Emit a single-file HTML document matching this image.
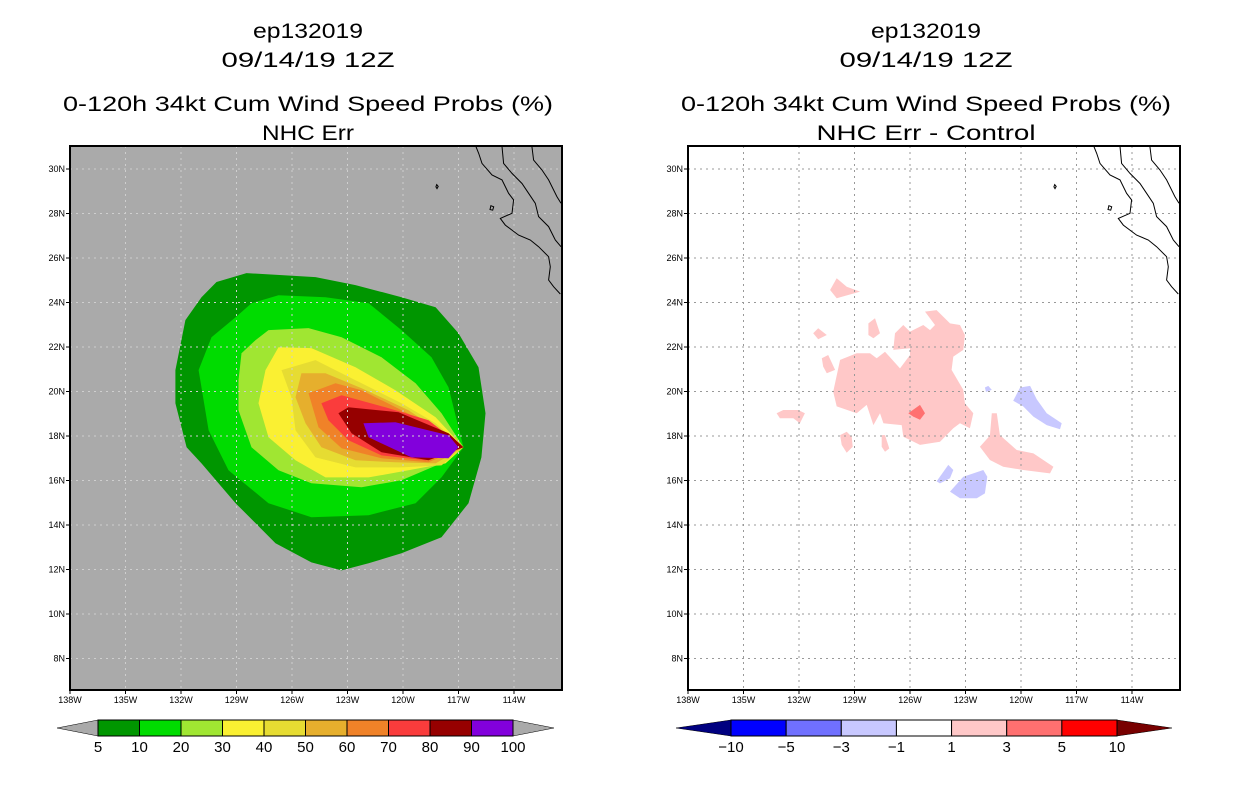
<!DOCTYPE html>
<html><head><meta charset="utf-8"><style>
body{margin:0;background:#fff;}
svg text{font-family:"Liberation Sans",sans-serif;}
</style></head><body>
<svg id="s" width="1236" height="800" viewBox="0 0 1236 800" xmlns="http://www.w3.org/2000/svg">
<rect width="1236" height="800" fill="#fff"/>
<g font-size="21" text-anchor="middle" fill="#000" lengthAdjust="spacingAndGlyphs">
<text x="308" y="38" textLength="110" lengthAdjust="spacingAndGlyphs">ep132019</text>
<text x="308" y="67" textLength="173" lengthAdjust="spacingAndGlyphs">09/14/19 12Z</text>
<text x="308" y="111" textLength="490" lengthAdjust="spacingAndGlyphs">0-120h 34kt Cum Wind Speed Probs (%)</text>
<text x="308" y="140" textLength="92" lengthAdjust="spacingAndGlyphs">NHC Err</text>
<text x="926" y="38" textLength="110" lengthAdjust="spacingAndGlyphs">ep132019</text>
<text x="926" y="67" textLength="173" lengthAdjust="spacingAndGlyphs">09/14/19 12Z</text>
<text x="926" y="111" textLength="490" lengthAdjust="spacingAndGlyphs">0-120h 34kt Cum Wind Speed Probs (%)</text>
<text x="926" y="140" textLength="219" lengthAdjust="spacingAndGlyphs">NHC Err - Control</text>
</g>
</svg>
<script>
const lonTicks=[138,135,132,129,126,123,120,117,114];
const latTicks=[30,28,26,24,22,20,18,16,14,12,10,8];
const leftLevels=["5","10","20","30","40","50","60","70","80","90","100"];
const leftColors=["#009600","#00dc00","#a0e632","#faf032","#e6dc32","#e6af2d","#f08228","#fa3c3c","#960000","#8200dc"];
const rightLevels=["-10","-5","-3","-1","1","3","5","10"];
const rightColors=["#0000ff","#7070ff","#c8c8ff","#ffffff","#ffc8c8","#ff7070","#ff0000"];
// contours: [lon,lat] pairs, 5% .. 90%
const c05=[[130.08,24.92],[128.46,25.32],[124.73,25.14],[122.57,24.78],[120.08,24.24],[118.24,23.79],[117.0,22.62],[115.92,21.09],[115.54,19.02],[115.76,17.04],[116.46,14.98],[117.92,13.45],[120.08,12.73],[121.86,12.28],[123.32,11.96],[124.95,12.32],[126.89,13.18],[129.05,14.98],[130.89,16.77],[131.70,17.49],[132.30,19.47],[132.30,20.96],[131.76,23.21],[130.89,24.24]];
const c10=[[126.73,24.33],[124.19,24.24],[121.86,23.97],[120.08,22.76],[118.46,21.54],[117.54,20.19],[117.0,18.39],[116.73,17.49],[117.92,16.14],[119.32,14.98],[121.86,14.44],[124.95,14.35],[127.27,14.98],[129.43,16.46],[130.51,18.26],[131.05,20.96],[130.35,22.44],[129.05,23.34],[128.19,23.97]];
const c20=[[127.27,22.76],[125.11,22.85],[123.32,22.44],[121.16,21.54],[119.32,20.37],[117.92,19.02],[116.73,17.49],[117.54,16.91],[120.08,16.01],[122.24,15.70],[124.95,15.88],[126.73,16.46],[128.19,17.49],[128.89,19.16],[128.89,20.51],[128.73,21.72],[127.97,22.31]];
const c30=[[126.73,21.99],[124.95,21.95],[122.57,21.09],[120.41,20.06],[118.24,18.84],[116.73,17.49],[117.70,16.77],[119.70,16.46],[121.86,16.14],[124.19,16.14],[125.81,16.91],[127.27,17.94],[127.81,19.47],[127.43,20.96]];
const c40=[[126.57,20.96],[124.73,21.41],[122.57,20.51],[120.08,19.47],[118.24,18.57],[116.73,17.49],[117.92,16.68],[120.08,16.59],[122.57,16.59],[124.73,17.04],[125.81,18.26],[126.03,19.74]];
const c50=[[125.49,20.82],[124.19,20.82],[122.24,20.15],[119.70,19.16],[116.73,17.49],[118.24,16.77],[120.41,16.82],[122.57,16.91],[124.41,17.49],[125.27,18.57],[125.81,19.74]];
const c60=[[125.11,19.92],[123.65,20.37],[122.24,20.06],[119.32,18.84],[116.73,17.49],[118.62,16.82],[121.16,17.00],[123.32,17.45],[124.57,18.39]];
const c70=[[124.41,19.47],[123.32,19.83],[120.95,19.29],[118.62,18.71],[116.73,17.49],[118.78,16.91],[121.16,17.13],[122.95,17.81],[124.03,18.71]];
const c80=[[123.49,19.02],[122.95,19.29],[120.24,19.07],[117.54,18.12],[116.73,17.49],[118.62,16.91],[121.16,17.27],[122.78,18.12]];
const c90=[[122.14,18.57],[120.41,18.62],[117.54,18.03],[117.0,17.49],[117.54,17.00],[119.54,17.04],[121.86,17.94]];
// difference blobs
const pMain=[[130.15,19.99],[129.78,21.42],[128.88,21.72],[128.16,21.72],[127.80,21.49],[127.35,21.79],[126.54,21.04],[126.0,21.64],[126.0,21.94],[126.90,21.87],[126.81,22.62],[126.36,22.99],[126.0,22.69],[125.28,22.99],[124.92,22.76],[124.65,22.99],[125.19,23.59],[124.56,23.66],[123.84,23.06],[123.30,22.99],[123.03,22.54],[123.12,21.87],[123.66,21.57],[123.75,20.97],[123.12,20.07],[123.03,19.47],[122.58,19.02],[122.76,18.35],[123.30,18.57],[123.66,18.35],[124.38,17.74],[125.46,17.60],[126.36,17.97],[126.45,18.49],[127.44,18.57],[127.62,19.02],[127.98,18.49],[128.34,19.40],[128.88,19.02],[129.96,19.33]];
const pA=[[130.32,24.56],[129.96,25.09],[129.42,24.71],[128.70,24.49],[129.96,24.19]];
const pB=[[131.23,22.62],[130.96,22.84],[130.50,22.54],[130.96,22.35]];
const pC=[[128.25,23.06],[127.89,23.29],[127.62,22.62],[127.98,22.39],[128.25,22.54]];
const pD=[[130.77,21.49],[130.42,21.64],[130.05,20.97],[130.50,20.82],[130.69,21.12]];
const pE=[[133.21,19.02],[132.85,19.17],[132.04,19.17],[131.68,19.02],[131.95,18.57],[132.31,18.80],[133.03,18.80]];
const pF=[[129.78,18.04],[129.42,18.19],[129.15,17.97],[129.10,17.52],[129.42,17.25],[129.69,17.60]];
const pG=[[127.53,18.04],[127.35,18.04],[127.12,17.44],[127.35,17.29],[127.53,17.52]];
const pH=[[122.22,17.52],[121.68,18.02],[121.58,19.02],[121.31,19.02],[121.14,18.04],[120.23,17.37],[119.33,17.22],[118.25,16.62],[118.43,16.32],[119.88,16.47],[120.96,16.62],[121.68,16.92]];
const rDiamond=[[126.09,19.02],[125.46,19.40],[125.19,19.02],[125.46,18.73],[125.82,18.87]];
const bI=[[120.42,19.58],[120.05,20.18],[119.51,20.25],[119.15,19.65],[118.61,19.02],[117.80,18.57],[117.89,18.30],[118.61,18.49],[119.33,18.87],[119.88,19.33]];
const bJ=[[123.84,15.50],[123.12,16.17],[122.04,16.47],[121.82,16.17],[121.95,15.42],[122.39,15.20],[123.30,15.20]];
const bK=[[124.56,15.96],[123.93,16.70],[123.66,16.47],[123.84,16.10],[124.38,15.87]];
const bL=[[121.95,20.18],[121.77,20.25],[121.58,20.07],[121.89,19.98]];
// coastlines
const coast1=[[116.09,31.08],[115.91,30.70],[115.73,30.25],[115.19,29.73],[114.65,29.51],[114.29,28.91],[114.02,28.61],[114.11,28.01],[114.74,27.78],[114.47,27.48],[113.75,27.03],[113.12,26.81],[112.67,26.51],[112.13,26.06],[112.04,25.61],[112.13,25.01],[111.86,24.71],[111.50,24.38]];
const coast2=[[114.65,31.01],[114.56,30.25],[114.11,29.80],[113.57,29.35],[113.21,28.91],[112.85,28.46],[112.67,27.86],[112.13,27.41],[111.77,26.81],[111.46,26.51]];
const coast3=[[113.03,31.01],[112.94,30.40],[112.49,29.96],[112.13,29.51],[111.68,28.76],[111.46,28.46]];
const island=[[115.25,28.35],[115.10,28.30],[115.15,28.15],[115.30,28.18]];
const island2=[[118.18,29.30],[118.10,29.22],[118.16,29.12],[118.22,29.20]];

const NS='http://www.w3.org/2000/svg';
const svg=document.getElementById('s');
const TOP=146,BOT=690,W=492;
function X(x0,lon){return x0+(138-lon)*18.5;}
function Y(lat){return 169+(30-lat)*22.25;}
function mk(tag,attrs,parent){const e=document.createElementNS(NS,tag);for(const k in attrs)e.setAttribute(k,attrs[k]);(parent||svg).appendChild(e);return e;}
function pts(x0,arr){return arr.map(p=>X(x0,p[0]).toFixed(1)+','+Y(p[1]).toFixed(1)).join(' ');}

function panel(x0,bg,gridCol,side){
  const clipId='clip'+side;
  const cp=mk('clipPath',{id:clipId});mk('rect',{x:x0,y:TOP,width:W,height:BOT-TOP},cp);
  const bgR=mk('rect',{x:x0,y:TOP,width:W,height:BOT-TOP,fill:bg});
  
  
  const g=mk('g',{'clip-path':'url(#'+clipId+')'});
  
  
  return g;
}
function poly(g,x0,arr,fill,name){
  const p=mk('polygon',{points:pts(x0,arr),fill:fill},g);
  
  
}
function grid(g,x0,col){
  lonTicks.forEach(l=>{const ln=mk('line',{x1:X(x0,l),x2:X(x0,l),y1:TOP,y2:BOT,stroke:col,'stroke-width':1,'stroke-dasharray':'2,4'},g);
    
    });
  latTicks.forEach(l=>{const ln=mk('line',{x1:x0,x2:x0+W,y1:Y(l),y2:Y(l),stroke:col,'stroke-width':1,'stroke-dasharray':'2,4'},g);
    
    });
}
function coasts(g,x0){
  [coast1,coast2,coast3].forEach(c=>{const l=mk('polyline',{points:pts(x0,c),fill:'none',stroke:'#000','stroke-width':1},g);
    
    });
  [island,island2].forEach(c=>{const i=mk('polygon',{points:pts(x0,c),fill:'none',stroke:'#000','stroke-width':1},g);
    
    });
}
function axes(x0,side){
  const f=mk('rect',{x:x0,y:TOP,width:W,height:BOT-TOP,fill:'none',stroke:'#000','stroke-width':2});
  
  
  lonTicks.forEach(l=>{
    mk('line',{x1:X(x0,l),x2:X(x0,l),y1:BOT,y2:BOT+4,stroke:'#000'});
    const t=mk('text',{x:X(x0,l),y:BOT+13,'font-size':9,'text-anchor':'middle'});t.textContent=l+'W';
    
    
  });
  latTicks.forEach(l=>{
    mk('line',{x1:x0-4,x2:x0,y1:Y(l),y2:Y(l),stroke:'#000'});
    const t=mk('text',{x:x0-5,y:Y(l)+3,'font-size':9,'text-anchor':'end'});t.textContent=l+'N';
    
    
  });
}
// left panel
const gl=panel(70,'#aaaaaa','#c8c8c8','left');
[c05,c10,c20,c30,c40,c50,c60,c70,c80,c90].forEach((c,i)=>poly(gl,70,c,leftColors[i],'contour-'+leftLevels[i]));
grid(gl,70,'#cfcfcf');coasts(gl,70);axes(70,'left');
// right panel
const gr=panel(688,'#ffffff','#999','right');
[pMain,pA,pB,pC,pD,pE,pF,pG,pH].forEach(p=>poly(gr,688,p,'#ffc8c8','diff-positive-1-3'));
poly(gr,688,rDiamond,'#ff7070','diff-positive-3-5');
[bI,bJ,bK,bL].forEach(p=>poly(gr,688,p,'#c8c8ff','diff-negative-1-3'));
grid(gr,688,'#999');coasts(gr,688);axes(688,'right');

// colorbars
function colorbar(x0,x1,tipL,tipR,colors,levels,lowCol,highCol,side){
  const y0=720,y1=736,ym=728,n=colors.length,bw=(x1-x0)/n;
  const g=mk('g',{});
  
  
  mk('polygon',{points:`${tipL},${ym} ${x0},${y0} ${x0},${y1}`,fill:lowCol,stroke:'#000','stroke-width':0.5},g);
  mk('polygon',{points:`${tipR},${ym} ${x1},${y0} ${x1},${y1}`,fill:highCol,stroke:'#000','stroke-width':0.5},g);
  colors.forEach((c,i)=>{const r=mk('rect',{x:x0+i*bw,y:y0,width:bw,height:y1-y0,fill:c,stroke:'#000','stroke-width':1},g);
    
    });
  levels.forEach((l,i)=>{const t=mk('text',{x:x0+i*bw,y:752,'font-size':15,'text-anchor':'middle'},g);t.textContent=l.replace('-','\u2212');
    
    });
}
colorbar(98,513,57,554,leftColors,leftLevels,'#aaaaaa','#aaaaaa','left');
colorbar(731,1117,676,1172,rightColors,rightLevels,'#000080','#780000','right');
</script>
</body></html>
